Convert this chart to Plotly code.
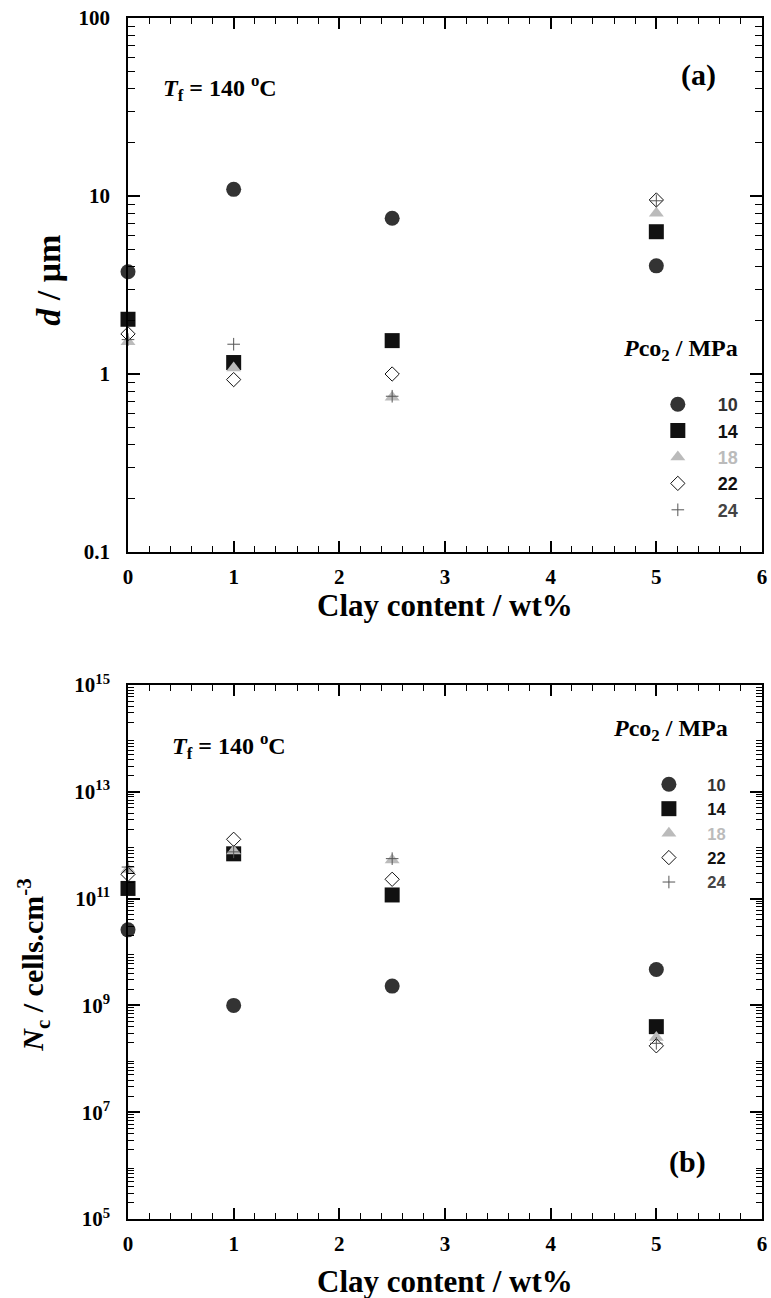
import plotly.graph_objects as go

# ---------------- data ----------------
clay = [0, 1, 2.5, 5]
pressures = ["10", "14", "18", "22", "24"]

d_10 = [3.75, 10.9, 7.5, 4.05]
d_14 = [2.03, 1.16, 1.54, 6.3]
d_18 = [1.52, 1.08, 0.74, 8.0]
d_22 = [1.68, 0.93, 1.0, 9.5]
d_24 = [1.56, 1.47, 0.75, 9.4]

nc_10 = [2.6e10, 1.0e9, 2.3e9, 4.7e9]
nc_14 = [1.55e11, 6.9e11, 1.17e11, 4.0e8]
nc_18 = [3.5e11, 7.8e11, 5.3e11, 2.5e8]
nc_22 = [2.85e11, 1.29e12, 2.3e11, 1.75e8]
nc_24 = [3.9e11, 7.5e11, 5.6e11, 1.95e8]

d_series = [d_10, d_14, d_18, d_22, d_24]
nc_series = [nc_10, nc_14, nc_18, nc_22, nc_24]

x_ticks = [0, 1, 2, 3, 4, 5, 6]
d_tickvals = [0.1, 1, 10, 100]
d_ticktext = ["0.1", "1", "10", "100"]
nc_label_exps = [5, 7, 9, 11, 13, 15]
nc_unlabeled_exps = [6, 8, 10, 12, 14]

# ---------------- styles ----------------
W, H = 771, 1298
L, R, T, B = 128, 4, 18, 79
PW, PH = W - L - R, H - T - B

def px(xp):
    return (xp - L) / PW

def py(yp):
    return (H - B - yp) / PH

styles = [
    dict(symbol="circle", size=15, color="#333333", line=dict(width=0), tc="#333333"),
    dict(symbol="square", size=15, color="#111111", line=dict(width=0), tc="#111111"),
    dict(symbol="triangle-up", size=13, color="#bbbbbb", line=dict(width=0), tc="#bbbbbb"),
    dict(symbol="diamond-open", size=11, color="#111111", line=dict(width=1, color="#111111"), tc="#111111"),
    dict(symbol="cross-thin", size=9, color="#555555", line=dict(width=1, color="#555555"), tc="#444444"),
]

SERIF = "Liberation Serif, Times New Roman, serif"
SANS = "Liberation Sans, Arial, sans-serif"

fig = go.Figure()

for i, (p, st) in enumerate(zip(pressures, styles)):
    mk = dict(symbol=st["symbol"], size=st["size"], color=st["color"], line=st["line"])
    name = "&nbsp;&nbsp;&nbsp;&nbsp;<span style='color:%s'>%s</span>" % (st["tc"], p)
    fig.add_trace(go.Scatter(x=clay, y=d_series[i], mode="markers", marker=mk,
                             name=name, xaxis="x", yaxis="y", legend="legend",
                             cliponaxis=False))
for i, (p, st) in enumerate(zip(pressures, styles)):
    mk = dict(symbol=st["symbol"], size=st["size"], color=st["color"], line=st["line"])
    name = "&nbsp;&nbsp;&nbsp;&nbsp;<span style='color:%s'>%s</span>" % (st["tc"], p)
    fig.add_trace(go.Scatter(x=clay, y=nc_series[i], mode="markers", marker=mk,
                             name=name, xaxis="x2", yaxis="y2", legend="legend2",
                             cliponaxis=False))

tickfont = dict(family=SERIF, size=21, color="black", weight="bold")

xcommon = dict(range=[0, 6], tickvals=x_ticks, ticks="inside", ticklen=11, tickwidth=1.5,
               tickcolor="black", showline=True, linecolor="black", linewidth=1.5,
               mirror="ticks", showgrid=False, zeroline=False, tickfont=tickfont,
               ticklabelstandoff=5,
               minor=dict(dtick=0.2, tick0=0, ticks="inside", ticklen=6, tickwidth=1.2,
                          tickcolor="black", showgrid=False))

d_minor = [m * 10 ** e for e in range(-1, 2) for m in range(2, 10)]
nc_minor = [m * 10 ** e for e in range(5, 15) for m in range(2, 10)]

ycommon = dict(type="log", ticks="inside", ticklen=12, tickwidth=1.5, tickcolor="black",
               showline=True, linecolor="black", linewidth=1.5, mirror="ticks",
               showgrid=False, zeroline=False, tickfont=tickfont, ticklabelstandoff=12)

fig.update_layout(
    width=W, height=H,
    margin=dict(l=L, r=R, t=T, b=B),
    paper_bgcolor="white", plot_bgcolor="white",
    xaxis=dict(domain=[0, 1], anchor="y", **xcommon),
    yaxis=dict(domain=[py(552), 1], anchor="x", range=[-1, 2],
               tickvals=d_tickvals, ticktext=d_ticktext,
               minor=dict(tickvals=d_minor, ticks="inside", ticklen=7, tickwidth=1.2,
                          tickcolor="black", showgrid=False),
               **ycommon),
    xaxis2=dict(domain=[0, 1], anchor="y2", **xcommon),
    yaxis2=dict(domain=[0, py(685)], anchor="x2", range=[5, 15],
                tickvals=[10 ** e for e in nc_label_exps],
                ticktext=["10<sup>%d</sup>" % e for e in nc_label_exps],
                minor=dict(tickvals=nc_minor, ticks="inside", ticklen=6, tickwidth=1.2,
                           tickcolor="black", showgrid=False),
                **ycommon),
    yaxis3=dict(domain=[0, py(685)], anchor="x2", overlaying="y2", side="left",
                type="log", range=[5, 15],
                tickvals=[10 ** e for e in nc_unlabeled_exps],
                showticklabels=False, ticks="inside", ticklen=12, tickwidth=1.5,
                tickcolor="black", showline=True, linecolor="black", linewidth=1.5,
                mirror="ticks", showgrid=False, zeroline=False),
    legend=dict(x=px(662), y=py(386), xanchor="left", yanchor="top",
                font=dict(family=SANS, size=18, color="#111111", weight="bold"),
                bgcolor="rgba(0,0,0,0)", borderwidth=0, itemwidth=30,
                tracegroupgap=0),
    legend2=dict(x=px(653), y=py(767), xanchor="left", yanchor="top",
                 font=dict(family=SANS, size=16.5, color="#111111", weight="bold"),
                 bgcolor="rgba(0,0,0,0)", borderwidth=0, itemwidth=30,
                 tracegroupgap=0),
    showlegend=True,
)

def ann(text, x, y, size, xanchor="center", yanchor="middle", angle=0, family=SERIF):
    fig.add_annotation(text=text, x=px(x), y=py(y), xref="paper", yref="paper",
                       xanchor=xanchor, yanchor=yanchor, showarrow=False, textangle=angle,
                       font=dict(family=family, size=size, color="black", weight="bold"))

# panel (a)
ann("<i>T</i><sub>f</sub> = 140 <sup>o</sup>C", 161, 88, 24, xanchor="left")
ann("(a)", 703, 75, 30)
ann("<i>P</i>co<sub>2</sub> / MPa", 745, 350, 24, xanchor="right")
ann("Clay content / wt%", 447, 605, 31)
ann("<i>d</i> / μm", 47, 280, 34, angle=-90)

# panel (b)
ann("<i>T</i><sub>f</sub> = 140 <sup>o</sup>C", 170, 746, 24, xanchor="left")
ann("(b)", 692, 1162, 30)
ann("<i>P</i>co<sub>2</sub> / MPa", 735, 730, 24, xanchor="right")
ann("Clay content / wt%", 447, 1281, 31)
ann("<i>N</i><sub>c</sub> / cells.cm<sup>-3</sup>", 32, 965, 30, angle=-90)

fig.write_html("out.html")
